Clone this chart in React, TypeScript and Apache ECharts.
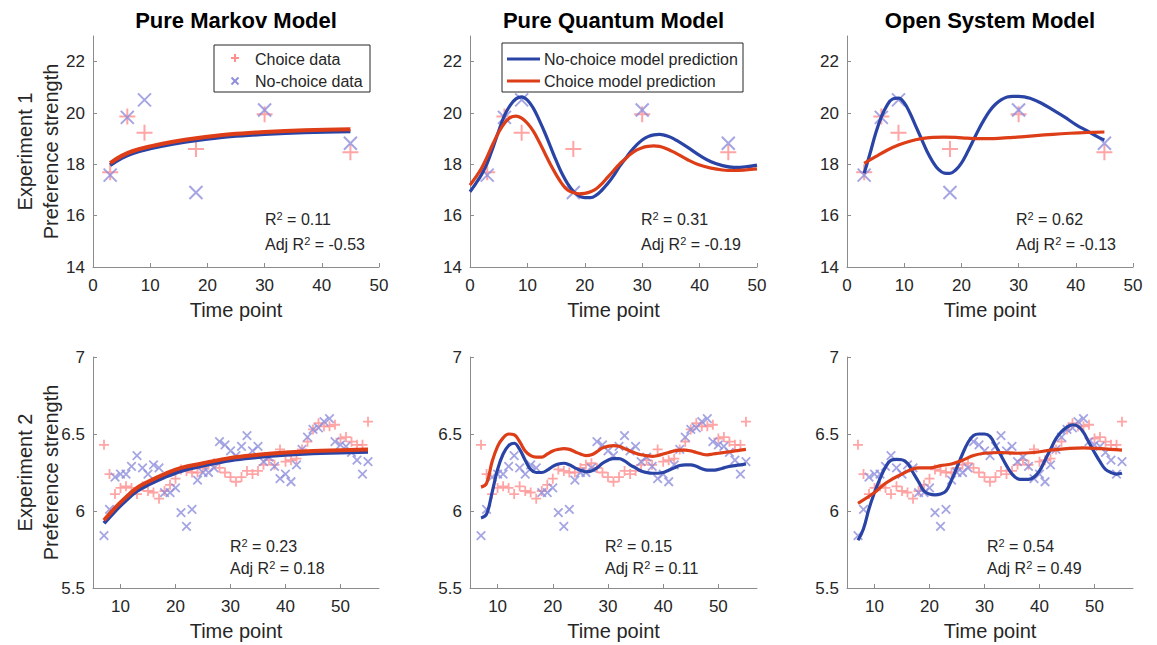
import React, { useEffect, useRef } from "react";
import * as echarts from "echarts";

// ---------- text ----------
const panelTitles = ["Pure Markov Model", "Pure Quantum Model", "Open System Model"];
const rowLabels = ["Experiment 1\nPreference strength", "Experiment 2\nPreference strength"];
const xAxisName = "Time point";
const dataLegendNames = ["Choice data", "No-choice data"];
const modelLegendNames = ["No-choice model prediction", "Choice model prediction"];
const r2Exp1 = ["0.11", "0.31", "0.62"];
const adjR2Exp1 = ["-0.53", "-0.19", "-0.13"];
const r2Exp2 = ["0.23", "0.15", "0.54"];
const adjR2Exp2 = ["0.18", "0.11", "0.49"];

// ---------- ticks ----------
const xTicksExp1 = [0, 10, 20, 30, 40, 50];
const yTicksExp1 = [14, 16, 18, 20, 22];
const xTicksExp2 = [10, 20, 30, 40, 50];
const yTicksExp2 = [5.5, 6, 6.5, 7];
const xRangeExp1 = [0, 50];
const yRangeExp1 = [14, 23];
const xRangeExp2 = [5, 57];
const yRangeExp2 = [5.5, 7];

// ---------- Experiment 1 data ----------
const timeExp1 = [3, 6, 9, 18, 30, 45];
const choiceExp1 = [17.69, 19.86, 19.23, 18.6, 19.95, 18.47];
const noChoiceExp1 = [17.58, 19.83, 20.51, 16.9, 20.12, 18.82];

// Markov model predictions, Exp 1
const markovTimeExp1 = [3, 5, 7, 10, 14, 18, 24, 30, 37, 45];
const markovChoiceExp1 = [18.05, 18.33, 18.52, 18.7, 18.88, 19.02, 19.17, 19.26, 19.33, 19.37];
const markovNoChoiceExp1 = [17.97, 18.25, 18.44, 18.62, 18.8, 18.94, 19.09, 19.18, 19.25, 19.29];

// Quantum model predictions, Exp 1
const quantumTimeExp1 = [0, 1, 2, 3, 4, 5, 6, 7, 8, 9, 10, 11, 12, 13, 14, 15, 16, 17, 18, 19, 20, 21, 22, 23, 24, 25, 26, 27, 28, 29, 30, 31, 32, 33, 34, 35, 36, 38, 40, 42, 44, 46, 48, 50];
const quantumNoChoiceExp1 = [16.93, 17.25, 17.6, 18.05, 18.65, 19.3, 19.9, 20.3, 20.55, 20.63, 20.5, 20.2, 19.75, 19.25, 18.7, 18.15, 17.65, 17.25, 16.95, 16.77, 16.7, 16.7, 16.8, 17.0, 17.25, 17.55, 17.9, 18.2, 18.5, 18.75, 18.95, 19.08, 19.15, 19.17, 19.13, 19.05, 18.93, 18.65, 18.35, 18.1, 17.95, 17.88, 17.9, 17.97];
const quantumChoiceExp1 = [17.19, 17.5, 17.85, 18.3, 18.8, 19.25, 19.6, 19.82, 19.88, 19.8, 19.6, 19.3, 18.9, 18.45, 18.0, 17.6, 17.25, 17.0, 16.9, 16.85, 16.87, 16.93, 17.05, 17.25, 17.5, 17.75, 18.0, 18.2, 18.4, 18.55, 18.65, 18.7, 18.72, 18.7, 18.63, 18.53, 18.42, 18.17, 17.97, 17.85, 17.78, 17.76, 17.78, 17.82];

// Open system model predictions, Exp 1
const openTimeExp1 = [3, 4, 5, 6, 7, 8, 9, 10, 11, 12, 13, 14, 15, 16, 17, 18, 19, 20, 21, 22, 23, 24, 25, 26, 27, 28, 29, 30, 31, 32, 34, 36, 38, 40, 42, 44, 45];
const openNoChoiceExp1 = [17.65, 18.4, 19.2, 19.85, 20.3, 20.55, 20.58, 20.4, 20.0, 19.5, 19.0, 18.5, 18.1, 17.8, 17.66, 17.65, 17.78, 18.05, 18.45, 18.9, 19.35, 19.75, 20.1, 20.35, 20.52, 20.62, 20.65, 20.65, 20.63, 20.57, 20.38, 20.12, 19.85, 19.55, 19.3, 19.05, 18.95];
const openChoiceTimeExp1 = [3, 5, 7, 9, 11, 13, 15, 17, 19, 21, 23, 25, 27, 29, 31, 33, 36, 39, 42, 45];
const openChoiceExp1 = [18.04, 18.3, 18.55, 18.75, 18.9, 19.0, 19.05, 19.06, 19.05, 19.02, 19.0, 19.0, 19.02, 19.05, 19.08, 19.12, 19.17, 19.21, 19.24, 19.26];

// ---------- Experiment 2 data ----------
const timeExp2 = [7, 8, 9, 10, 11, 12, 13, 14, 15, 16, 17, 18, 19, 20, 21, 22, 23, 24, 25, 26, 27, 28, 29, 30, 31, 32, 33, 34, 35, 36, 37, 38, 39, 40, 41, 42, 43, 44, 45, 46, 47, 48, 49, 50, 51, 52, 53, 54, 55];
const choiceExp2 = [6.43, 6.24, 6.11, 6.15, 6.16, 6.15, 6.11, 6.16, 6.13, 6.12, 6.08, 6.13, 6.17, 6.21, 6.27, 6.26, 6.25, 6.25, 6.28, 6.30, 6.31, 6.28, 6.25, 6.22, 6.19, 6.22, 6.26, 6.24, 6.26, 6.30, 6.33, 6.30, 6.40, 6.32, 6.33, 6.34, 6.40, 6.45, 6.53, 6.57, 6.55, 6.55, 6.56, 6.47, 6.48, 6.45, 6.43, 6.43, 6.58];
const noChoiceExp2 = [5.84, 6.01, 6.22, 6.24, 6.24, 6.29, 6.36, 6.28, 6.24, 6.30, 6.28, 6.12, 6.12, 6.15, 5.99, 5.90, 6.01, 6.20, 6.25, 6.25, 6.28, 6.45, 6.43, 6.39, 6.36, 6.42, 6.49, 6.39, 6.42, 6.32, 6.35, 6.29, 6.21, 6.24, 6.19, 6.30, 6.40, 6.48, 6.53, 6.54, 6.58, 6.60, 6.45, 6.43, 6.42, 6.38, 6.33, 6.24, 6.32];

// Markov model predictions, Exp 2
const markovTimeExp2 = [7, 9, 11, 13, 15, 18, 21, 25, 30, 35, 40, 45, 50, 55];
const markovChoiceExp2 = [5.94, 6.02, 6.09, 6.15, 6.19, 6.24, 6.28, 6.31, 6.345, 6.365, 6.38, 6.39, 6.395, 6.4];
const markovNoChoiceExp2 = [5.92, 6.0, 6.07, 6.13, 6.17, 6.22, 6.26, 6.295, 6.33, 6.35, 6.365, 6.375, 6.38, 6.385];

// Quantum model predictions, Exp 2
const quantumChoiceExp2 = [6.155, 6.18, 6.32, 6.42, 6.475, 6.5, 6.495, 6.45, 6.39, 6.36, 6.35, 6.35, 6.37, 6.39, 6.4, 6.405, 6.4, 6.385, 6.37, 6.36, 6.365, 6.385, 6.41, 6.42, 6.425, 6.42, 6.405, 6.39, 6.375, 6.365, 6.36, 6.355, 6.36, 6.37, 6.38, 6.39, 6.395, 6.395, 6.39, 6.38, 6.37, 6.365, 6.37, 6.375, 6.38, 6.385, 6.39, 6.395, 6.4];
const quantumNoChoiceExp2 = [5.955, 5.98, 6.12, 6.27, 6.37, 6.425, 6.44, 6.4, 6.33, 6.27, 6.25, 6.25, 6.265, 6.29, 6.305, 6.31, 6.3, 6.28, 6.265, 6.255, 6.26, 6.28, 6.31, 6.33, 6.34, 6.34, 6.325, 6.3, 6.28, 6.26, 6.25, 6.245, 6.245, 6.25, 6.265, 6.28, 6.295, 6.3, 6.3, 6.29, 6.275, 6.265, 6.265, 6.27, 6.28, 6.29, 6.295, 6.3, 6.305];

// Open system model predictions, Exp 2
const openNoChoiceExp2 = [5.81, 5.885, 6.015, 6.12, 6.21, 6.285, 6.33, 6.335, 6.333, 6.31, 6.25, 6.19, 6.13, 6.11, 6.105, 6.11, 6.13, 6.2, 6.285, 6.37, 6.445, 6.49, 6.5, 6.5, 6.485, 6.425, 6.36, 6.295, 6.24, 6.21, 6.205, 6.205, 6.22, 6.26, 6.33, 6.4, 6.47, 6.515, 6.545, 6.56, 6.55, 6.51, 6.445, 6.38, 6.32, 6.27, 6.25, 6.24, 6.245];
const openChoiceTimeExp2 = [7, 10, 12, 15, 18, 20, 22, 24, 26, 28, 30, 33, 36, 39, 42, 45, 48, 51, 55];
const openChoiceExp2 = [6.05, 6.12, 6.18, 6.24, 6.28, 6.28, 6.295, 6.305, 6.33, 6.36, 6.375, 6.38, 6.375, 6.38, 6.395, 6.405, 6.41, 6.405, 6.395];

// ---------- styles / layout ----------
const FONT = "'Liberation Sans', Arial, Helvetica, sans-serif";
const TEXT = "#262626";
const AXIS = "#8c8c8c";
const RED_MARK = "#ff8e8e";
const BLUE_MARK = "#8e8edc";
const BLUE_LINE = "#2a44a6";
const RED_LINE = "#dd3d17";
const colLeft = [93, 470, 847];
const colWidth = [286, 287, 286];
const rowTop = [36, 357];
const rowHeight = 231;

const PLUS = "path://M0,5L10,5M5,0L5,10";
const CROSS = "path://M0,0L10,10M0,10L10,0";

const zip = (xs: number[], ys: number[]) => xs.map((x, i) => [x, ys[i]]);

export default function App() {
  const ref = useRef<HTMLDivElement>(null);

  useEffect(() => {
    if (!ref.current) return;
    const chart = echarts.init(ref.current, undefined, { renderer: "svg" });

    const grids: any[] = [];
    const xAxes: any[] = [];
    const yAxes: any[] = [];
    const series: any[] = [];
    const graphics: any[] = [];

    const curves = [
      [
        { t: markovTimeExp1, nc: markovNoChoiceExp1, tc: markovTimeExp1, c: markovChoiceExp1, w: 4 },
        { t: quantumTimeExp1, nc: quantumNoChoiceExp1, tc: quantumTimeExp1, c: quantumChoiceExp1, w: 3.2 },
        { t: openTimeExp1, nc: openNoChoiceExp1, tc: openChoiceTimeExp1, c: openChoiceExp1, w: 3.2 },
      ],
      [
        { t: markovTimeExp2, nc: markovNoChoiceExp2, tc: markovTimeExp2, c: markovChoiceExp2, w: 4 },
        { t: timeExp2, nc: quantumNoChoiceExp2, tc: timeExp2, c: quantumChoiceExp2, w: 3.2 },
        { t: timeExp2, nc: openNoChoiceExp2, tc: openChoiceTimeExp2, c: openChoiceExp2, w: 3.2 },
      ],
    ];

    for (let r = 0; r < 2; r++) {
      for (let c = 0; c < 3; c++) {
        const idx = r * 3 + c;
        grids.push({ left: colLeft[c], top: rowTop[r], width: colWidth[c], height: rowHeight });
        const xr = r === 0 ? xRangeExp1 : xRangeExp2;
        const yr = r === 0 ? yRangeExp1 : yRangeExp2;
        const xt = r === 0 ? xTicksExp1 : xTicksExp2;
        const yt = r === 0 ? yTicksExp1 : yTicksExp2;
        xAxes.push({
          gridIndex: idx,
          type: "value",
          min: xr[0],
          max: xr[1],
          axisLine: { show: true, onZero: false, lineStyle: { color: AXIS, width: 1 } },
          axisTick: { show: true, inside: true, length: 4, customValues: xt, lineStyle: { color: AXIS } },
          axisLabel: { customValues: xt, color: TEXT, fontSize: 17, fontFamily: FONT, margin: 10 },
          splitLine: { show: false },
          name: xAxisName,
          nameLocation: "middle",
          nameGap: 33,
          nameTextStyle: { fontSize: 20, color: TEXT, fontFamily: FONT },
        });
        yAxes.push({
          gridIndex: idx,
          type: "value",
          min: yr[0],
          max: yr[1],
          axisLine: { show: true, onZero: false, lineStyle: { color: AXIS, width: 1 } },
          axisTick: { show: true, inside: true, length: 4, customValues: yt, lineStyle: { color: AXIS } },
          axisLabel: { customValues: yt, color: TEXT, fontSize: 17, fontFamily: FONT, margin: 8 },
          splitLine: { show: false },
        });

        const tData = r === 0 ? timeExp1 : timeExp2;
        const cData = r === 0 ? choiceExp1 : choiceExp2;
        const nData = r === 0 ? noChoiceExp1 : noChoiceExp2;
        const big = r === 0;
        series.push({
          type: "scatter",
          name: dataLegendNames[0],
          xAxisIndex: idx,
          yAxisIndex: idx,
          data: zip(tData, cData),
          symbol: PLUS,
          symbolSize: big ? 16 : 10,
          itemStyle: { color: "transparent", borderColor: RED_MARK, borderWidth: big ? 2 : 1.8 },
          emphasis: { disabled: true },
          z: 2,
        });
        series.push({
          type: "scatter",
          name: dataLegendNames[1],
          xAxisIndex: idx,
          yAxisIndex: idx,
          data: zip(tData, nData),
          symbol: CROSS,
          symbolSize: big ? 13 : 8.5,
          itemStyle: { color: "transparent", borderColor: BLUE_MARK, borderWidth: big ? 2 : 1.8 },
          emphasis: { disabled: true },
          z: 2,
        });
        const cv = curves[r][c];
        series.push({
          type: "line",
          name: modelLegendNames[0],
          xAxisIndex: idx,
          yAxisIndex: idx,
          data: zip(cv.t, cv.nc),
          smooth: 0.4,
          showSymbol: false,
          symbol: "none",
          lineStyle: { color: BLUE_LINE, width: cv.w },
          emphasis: { disabled: true },
          z: 3,
        });
        series.push({
          type: "line",
          name: modelLegendNames[1],
          xAxisIndex: idx,
          yAxisIndex: idx,
          data: zip(cv.tc, cv.c),
          smooth: 0.4,
          showSymbol: false,
          symbol: "none",
          lineStyle: { color: RED_LINE, width: cv.w },
          emphasis: { disabled: true },
          z: 4,
        });
      }
    }

    // titles
    for (let c = 0; c < 3; c++) {
      graphics.push({
        type: "text",
        x: colLeft[c] + colWidth[c] / 2,
        y: 20,
        style: {
          text: panelTitles[c],
          font: `bold 22px ${FONT}`,
          fill: "#000",
          textAlign: "center",
          textVerticalAlign: "middle",
          align: "center",
          verticalAlign: "middle",
        },
      });
    }
    // row labels
    for (let r = 0; r < 2; r++) {
      graphics.push({
        type: "text",
        x: 38,
        y: rowTop[r] + rowHeight / 2,
        rotation: Math.PI / 2,
        style: {
          text: rowLabels[r],
          font: `20px ${FONT}`,
          lineHeight: 26,
          fill: TEXT,
          textAlign: "center",
          textVerticalAlign: "middle",
          align: "center",
          verticalAlign: "middle",
        },
      });
    }
    // R² annotations
    const r2x = [[265, 641, 1016], [230, 605, 987]];
    const r2y = [[219, 244.5], [546.5, 568.5]];
    const rich = {
      n: { fontSize: 16, fontFamily: FONT, fill: TEXT, color: TEXT },
      s: { fontSize: 11, fontFamily: FONT, fill: TEXT, color: TEXT, verticalAlign: "top", padding: [0, 0, 7, 0] },
    };
    for (let r = 0; r < 2; r++) {
      for (let c = 0; c < 3; c++) {
        const r2 = r === 0 ? r2Exp1[c] : r2Exp2[c];
        const adj = r === 0 ? adjR2Exp1[c] : adjR2Exp2[c];
        graphics.push({
          type: "text",
          x: r2x[r][c],
          y: r2y[r][0],
          z: 100,
          style: { text: `{n|R}{s|2}{n| = ${r2}}`, rich, textVerticalAlign: "middle", verticalAlign: "middle" },
        });
        graphics.push({
          type: "text",
          x: r2x[r][c],
          y: r2y[r][1],
          z: 100,
          style: { text: `{n|Adj R}{s|2}{n| = ${adj}}`, rich, textVerticalAlign: "middle", verticalAlign: "middle" },
        });
      }
    }
    // legend 1 (data)
    graphics.push({ type: "rect", z: 100, shape: { x: 214, y: 45, width: 156, height: 47 }, style: { fill: "#fff", stroke: "#262626", lineWidth: 1 } });
    graphics.push({ type: "line", z: 101, shape: { x1: 231, y1: 58, x2: 239, y2: 58 }, style: { stroke: RED_MARK, lineWidth: 2 } });
    graphics.push({ type: "line", z: 101, shape: { x1: 235, y1: 54, x2: 235, y2: 62 }, style: { stroke: RED_MARK, lineWidth: 2 } });
    graphics.push({ type: "line", z: 101, shape: { x1: 231.5, y1: 77.5, x2: 238.5, y2: 84.5 }, style: { stroke: BLUE_MARK, lineWidth: 2 } });
    graphics.push({ type: "line", z: 101, shape: { x1: 231.5, y1: 84.5, x2: 238.5, y2: 77.5 }, style: { stroke: BLUE_MARK, lineWidth: 2 } });
    graphics.push({ type: "text", z: 101, x: 255, y: 59, style: { text: dataLegendNames[0], font: `16px ${FONT}`, fill: TEXT, textVerticalAlign: "middle", verticalAlign: "middle" } });
    graphics.push({ type: "text", z: 101, x: 255, y: 81, style: { text: dataLegendNames[1], font: `16px ${FONT}`, fill: TEXT, textVerticalAlign: "middle", verticalAlign: "middle" } });
    // legend 2 (models)
    graphics.push({ type: "rect", z: 100, shape: { x: 502, y: 43, width: 241, height: 49 }, style: { fill: "#fff", stroke: "#262626", lineWidth: 1 } });
    graphics.push({ type: "line", z: 101, shape: { x1: 507, y1: 59, x2: 540, y2: 59 }, style: { stroke: BLUE_LINE, lineWidth: 3.2 } });
    graphics.push({ type: "line", z: 101, shape: { x1: 507, y1: 81, x2: 540, y2: 81 }, style: { stroke: RED_LINE, lineWidth: 3.2 } });
    graphics.push({ type: "text", z: 101, x: 544, y: 59, style: { text: modelLegendNames[0], font: `16px ${FONT}`, fill: TEXT, textVerticalAlign: "middle", verticalAlign: "middle" } });
    graphics.push({ type: "text", z: 101, x: 544, y: 81, style: { text: modelLegendNames[1], font: `16px ${FONT}`, fill: TEXT, textVerticalAlign: "middle", verticalAlign: "middle" } });

    chart.setOption({
      animation: false,
      backgroundColor: "#ffffff",
      textStyle: { fontFamily: FONT },
      grid: grids,
      xAxis: xAxes,
      yAxis: yAxes,
      series,
      graphic: graphics,
    });
    return () => chart.dispose();
  }, []);

  return <div ref={ref} style={{ position: "fixed", left: 0, top: 0, width: 1157, height: 645, background: "#fff" }} />;
}
